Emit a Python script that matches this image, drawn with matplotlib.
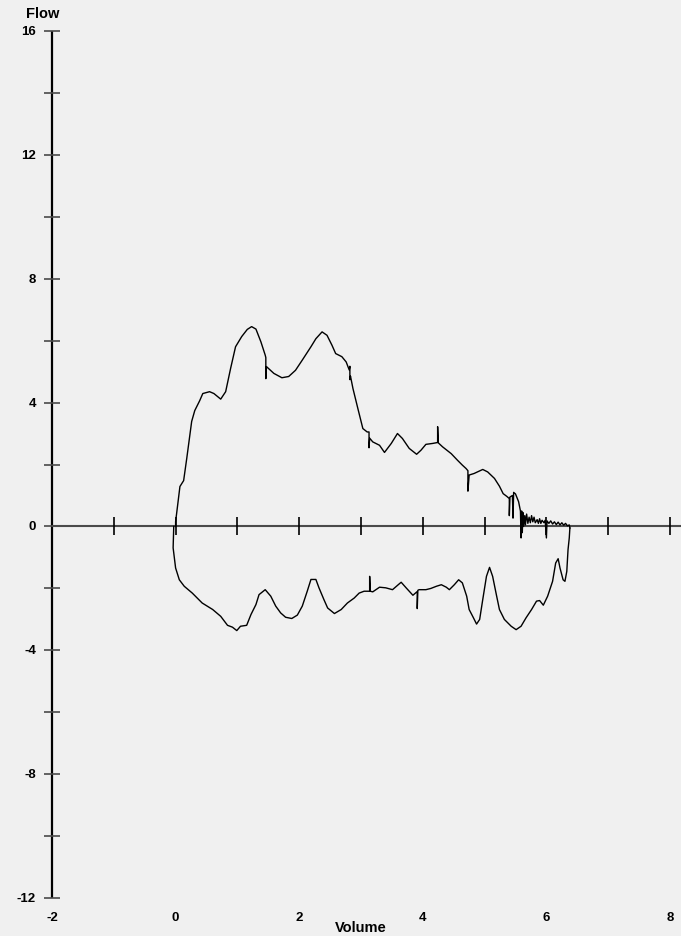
import matplotlib
matplotlib.use("Agg")
import matplotlib.pyplot as plt

# Expiratory limb (volume in L, flow in L/s)
exp_volume = [0.00, 0.00, 0.04, 0.07, 0.13, 0.18, 0.26, 0.31, 0.39, 0.44, 0.55, 0.62,
              0.73, 0.81, 0.89, 0.97, 1.07, 1.16, 1.23, 1.30, 1.38, 1.45, 1.46, 1.46,
              1.47, 1.59, 1.72, 1.83, 1.94, 2.05, 2.19, 2.27, 2.37, 2.45, 2.53, 2.59,
              2.69, 2.76, 2.81, 2.82, 2.82, 2.83, 2.87, 2.95, 3.03, 3.10, 3.13, 3.13,
              3.14, 3.19, 3.30, 3.38, 3.49, 3.59, 3.67, 3.78, 3.90, 3.97, 4.05, 4.16,
              4.24, 4.24, 4.25, 4.32, 4.46, 4.56, 4.64, 4.70, 4.73, 4.73, 4.75, 4.83,
              4.97, 5.05, 5.16, 5.24, 5.30, 5.36, 5.40, 5.40, 5.41, 5.45, 5.46, 5.47,
              5.50, 5.55, 5.58, 5.59, 5.60, 5.61, 5.62, 5.63, 5.65, 5.66, 5.68, 5.70,
              5.72, 5.74, 5.76, 5.78, 5.80, 5.82, 5.85, 5.87, 5.89, 5.91, 5.93, 5.96,
              5.98, 6.00, 6.01, 6.04, 6.07, 6.10, 6.13, 6.16, 6.19, 6.22, 6.25, 6.28,
              6.31, 6.34, 6.37, 6.38]
exp_flow = [0.00, 0.15, 0.80, 1.29, 1.48, 2.19, 3.39, 3.74, 4.06, 4.29, 4.35, 4.29,
            4.11, 4.35, 5.10, 5.80, 6.13, 6.36, 6.45, 6.37, 5.96, 5.53, 5.45, 4.77,
            5.16, 4.94, 4.80, 4.84, 5.04, 5.37, 5.80, 6.06, 6.28, 6.17, 5.85, 5.58,
            5.48, 5.31, 5.05, 5.17, 4.74, 4.85, 4.45, 3.80, 3.16, 3.05, 3.05, 2.54,
            2.85, 2.73, 2.62, 2.39, 2.68, 3.00, 2.84, 2.52, 2.33, 2.46, 2.65, 2.68,
            2.71, 3.22, 2.70, 2.57, 2.35, 2.14, 1.98, 1.87, 1.80, 1.14, 1.66, 1.71,
            1.84, 1.76, 1.55, 1.30, 1.06, 0.97, 0.90, 0.35, 0.95, 1.00, 0.27, 1.10,
            1.05, 0.80, 0.50, -0.37, 0.50, -0.20, 0.45, 0.00, 0.35, 0.05, 0.40, 0.10,
            0.30, 0.12, 0.35, 0.15, 0.30, 0.12, 0.22, 0.10, 0.25, 0.10, 0.20, 0.12,
            0.20, -0.37, 0.18, 0.10, 0.18, 0.08, 0.15, 0.06, 0.14, 0.05, 0.12, 0.04,
            0.10, 0.02, 0.05, -0.05]

# Inspiratory limb
insp_volume = [-0.03, -0.04, 0.00, 0.06, 0.14, 0.27, 0.43, 0.60, 0.73, 0.84, 0.92, 0.99,
               1.05, 1.15, 1.22, 1.30, 1.35, 1.45, 1.54, 1.62, 1.70, 1.78, 1.88, 1.97,
               2.05, 2.13, 2.19, 2.27, 2.32, 2.40, 2.46, 2.57, 2.68, 2.78, 2.89, 2.97,
               3.05, 3.14, 3.14, 3.15, 3.19, 3.30, 3.40, 3.51, 3.62, 3.65, 3.73, 3.84,
               3.91, 3.91, 3.92, 3.94, 4.05, 4.13, 4.22, 4.30, 4.38, 4.43, 4.51, 4.58,
               4.64, 4.71, 4.75, 4.82, 4.87, 4.92, 4.97, 5.03, 5.08, 5.13, 5.19, 5.24,
               5.32, 5.43, 5.51, 5.59, 5.67, 5.76, 5.84, 5.89, 5.95, 6.02, 6.10, 6.15,
               6.19, 6.22, 6.27, 6.30, 6.33, 6.35, 6.37, 6.38]
insp_flow = [0.00, -0.69, -1.34, -1.72, -1.93, -2.15, -2.47, -2.68, -2.90, -3.19, -3.25, -3.36,
             -3.22, -3.19, -2.84, -2.52, -2.20, -2.04, -2.25, -2.57, -2.79, -2.93, -2.97, -2.86,
             -2.57, -2.09, -1.71, -1.71, -1.98, -2.36, -2.63, -2.81, -2.68, -2.47, -2.31, -2.15,
             -2.09, -2.09, -1.61, -2.09, -2.11, -1.96, -1.98, -2.04, -1.85, -1.80, -1.98, -2.22,
             -2.10, -2.65, -2.06, -2.04, -2.04, -2.00, -1.93, -1.88, -1.96, -2.04, -1.88, -1.72,
             -1.82, -2.25, -2.68, -2.95, -3.15, -3.00, -2.36, -1.61, -1.32, -1.61, -2.20, -2.68,
             -3.00, -3.22, -3.33, -3.22, -2.95, -2.68, -2.41, -2.39, -2.54, -2.25, -1.77, -1.18,
             -1.04, -1.34, -1.72, -1.77, -1.45, -0.75, -0.37, -0.05]

x_ticks = list(range(-1, 9))
x_labels = [-2, 0, 2, 4, 6, 8]
y_ticks = list(range(-12, 17, 2))
y_labels = [-12, -8, -4, 0, 4, 8, 12, 16]

W, H = 681, 937
bg = "#f0f0f0"
fig = plt.figure(figsize=(W / 100, H / 100), dpi=100, facecolor=bg)

# axes box: x=-2..8 spans px 52..670, y=16..-12 spans px 31.7..899.3
left, right = 52, 670
top, bottom = 31.7, 899.3
ax = fig.add_axes([left / W, (H - bottom) / H, (right - left) / W, (bottom - top) / H])
ax.set_xlim(-2, 8)
ax.set_ylim(-12, 16)
ax.set_facecolor(bg)
ax.axis("off")

px_x = 10 / (right - left)    # data units per pixel, x
px_y = 28 / (bottom - top)    # data units per pixel, y

font = dict(family=["Liberation Sans", "DejaVu Sans"], fontweight="bold")
axis_col = "#4a4a4a"

# vertical axis
ax.plot([-2, -2], [-12, 16], color="black", lw=1.6, clip_on=False, solid_capstyle="butt")
# horizontal zero line, runs to the figure edge
ax.plot([-2, 8 + 12 * px_x], [0, 0], color=axis_col, lw=1.5, clip_on=False, solid_capstyle="butt")

for yt in y_ticks:
    ax.plot([-2 - 8 * px_x, -2 + 8 * px_x], [yt, yt], color=axis_col, lw=1.2,
            clip_on=False, solid_capstyle="butt")
for yl in y_labels:
    ax.text(-2 - 16 * px_x, yl, str(yl), ha="right", va="center", fontsize=9.5, **font)

for xt in x_ticks:
    ax.plot([xt, xt], [-9 * px_y, 9 * px_y], color="black", lw=1.2,
            clip_on=False, solid_capstyle="butt")
for xl in x_labels:
    ax.text(xl, -12 - 19 * px_y, str(xl), ha="center", va="center", fontsize=9.5, **font)

ax.text(3.0, -12 - 29 * px_y, "Volume", ha="center", va="center", fontsize=10.5, **font)
ax.text(-2 - 9 * px_x, 16 + 18 * px_y, "Flow", ha="center", va="center", fontsize=10.5, **font)

# flow-volume loop
ax.plot(exp_volume, exp_flow, color="black", lw=1.0, clip_on=False)
ax.plot(insp_volume, insp_flow, color="black", lw=1.0, clip_on=False)

fig.savefig("out.png", dpi=100, facecolor=bg)
